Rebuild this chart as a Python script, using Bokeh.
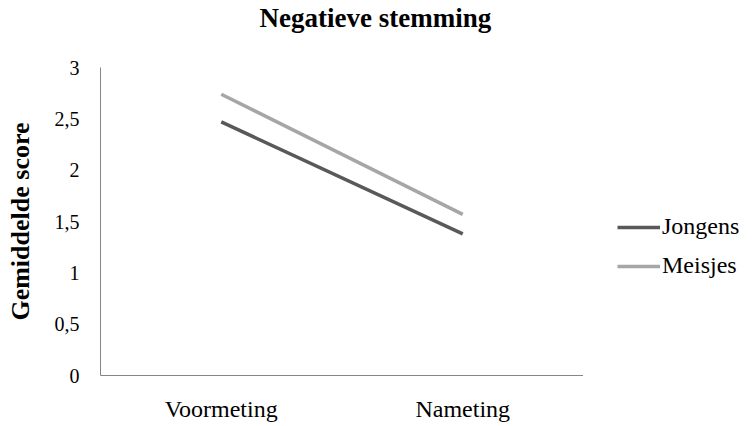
from bokeh.plotting import figure
from bokeh.layouts import row
from bokeh.models import FactorRange, Range1d, Legend, LegendItem, FixedTicker, Title
from bokeh.embed import file_html
from bokeh.resources import INLINE

# Meetmomenten en gemiddelde scores per groep
momenten = ["Voormeting", "Nameting"]
jongens = [2.47, 1.38]
meisjes = [2.74, 1.57]
y_ticks = [0, 0.5, 1, 1.5, 2, 2.5, 3]
y_tick_labels = ["0", "0,5", "1", "1,5", "2", "2,5", "3"]
reeksen = ["Jongens", "Meisjes"]
kleuren = ["#595959", "#a6a6a6"]

SERIF = "Liberation Serif"

p = figure(
    width=583, height=426,
    x_range=FactorRange(*momenten, range_padding=0),
    y_range=Range1d(0, 3),
    output_backend="svg", toolbar_location=None,
    min_border_left=100, min_border_right=0,
    min_border_top=67, min_border_bottom=51,
)
# tweede (lege) regel houdt de titel bovenaan met ruimte tot het plotvlak
p.title = Title(text="Negatieve stemming\n ", align="left", offset=159,
                vertical_align="top",
                text_font=SERIF, text_font_size="27px", text_font_style="bold",
                text_color="#000000", standoff=5)

p.outline_line_color = None
p.grid.grid_line_color = None
p.background_fill_color = "white"
p.border_fill_color = "white"

# y-as
p.yaxis.ticker = FixedTicker(ticks=y_ticks)
p.yaxis.major_label_overrides = {t: l for t, l in zip(y_ticks, y_tick_labels)}
p.yaxis.axis_line_color = "#868686"
p.yaxis.major_tick_line_color = None
p.yaxis.minor_tick_line_color = None
p.yaxis.major_label_standoff = 15
p.yaxis.major_label_text_font = SERIF
p.yaxis.major_label_text_font_size = "20px"
p.yaxis.major_label_text_color = "#000000"
p.yaxis.axis_label = "Gemiddelde score"
p.yaxis.axis_label_text_font = SERIF
p.yaxis.axis_label_text_font_size = "26px"
p.yaxis.axis_label_text_font_style = "bold"
p.yaxis.axis_label_text_color = "#000000"
p.yaxis.axis_label_standoff = 17

# x-as
p.xaxis.axis_line_color = "#868686"
p.xaxis.major_tick_line_color = None
p.xaxis.minor_tick_line_color = None
p.xaxis.major_label_standoff = 14
p.xaxis.major_label_text_font = SERIF
p.xaxis.major_label_text_font_size = "24px"
p.xaxis.major_label_text_color = "#000000"

p.line(momenten, jongens, line_color=kleuren[0], line_width=3.5)
p.line(momenten, meisjes, line_color=kleuren[1], line_width=3.5)

# aparte smalle figuur voor de legenda; de reeksen vallen buiten het
# bereik van deze figuur, zodat alleen de legendasymbolen te zien zijn
lg = figure(width=170, height=426, x_range=Range1d(0, 1), y_range=Range1d(10, 11),
            output_backend="svg", toolbar_location=None, min_border=0)
lg.axis.visible = False
lg.grid.grid_line_color = None
lg.outline_line_color = None
items = []
for naam, kleur, waarden in zip(reeksen, kleuren, [jongens, meisjes]):
    r = lg.line([0, 1], waarden, line_color=kleur, line_width=3.5)
    items.append(LegendItem(label=naam, renderers=[r]))

legend = Legend(
    items=items, location=(34, 96), orientation="vertical",
    glyph_width=43, glyph_height=20,
    label_standoff=2, spacing=12, padding=0, margin=0,
    border_line_color=None, background_fill_alpha=0,
    label_text_font=SERIF, label_text_font_size="24px", label_text_color="#000000",
)
lg.add_layout(legend, "center")

layout = row(p, lg)
open("out.html", "w").write(file_html(layout, INLINE))
